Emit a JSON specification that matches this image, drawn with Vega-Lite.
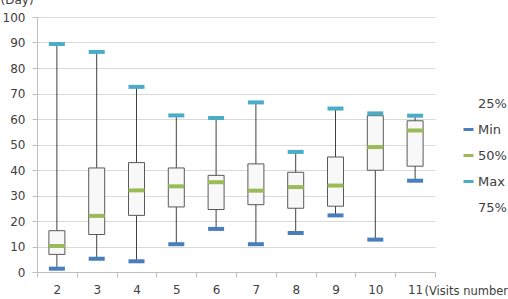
{
  "$schema": "https://vega.github.io/schema/vega-lite/v6.json",
  "width": 398,
  "height": 255,
  "autosize": {"type": "none"},
  "padding": {"left": 37, "top": 17, "right": 73, "bottom": 27},
  "background": "white",
  "config": {
    "view": {"stroke": null},
    "font": "DejaVu Sans",
    "axis": {"labelFont": "DejaVu Sans", "titleFont": "DejaVu Sans", "labelColor": "#404040", "titleColor": "#404040"},
    "axisY": {
      "titleAngle": 0,
      "titleFontSize": 12,
      "titleFontWeight": "normal",
      "titleAlign": "left",
      "titleBaseline": "alphabetic",
      "titleX": -37,
      "titleY": -14,
      "labelOverlap": false,
      "labelFontSize": 12,
      "labelPadding": 7,
      "tickSize": 5,
      "tickColor": "#bfbfbf",
      "domainColor": "#bfbfbf",
      "gridColor": "#d9d9d9"
    }
  },
  "data": {
    "values": [
      {"visit": 2, "Min": 1.3, "Q1": 6.9, "Median": 10.2, "Q3": 16.2, "Max": 89.4},
      {"visit": 3, "Min": 5.2, "Q1": 14.7, "Median": 22.0, "Q3": 40.8, "Max": 86.3},
      {"visit": 4, "Min": 4.2, "Q1": 22.2, "Median": 32.0, "Q3": 42.9, "Max": 72.6},
      {"visit": 5, "Min": 10.9, "Q1": 25.5, "Median": 33.6, "Q3": 40.8, "Max": 61.4},
      {"visit": 6, "Min": 16.9, "Q1": 24.5, "Median": 35.2, "Q3": 37.9, "Max": 60.4},
      {"visit": 7, "Min": 10.9, "Q1": 26.4, "Median": 31.9, "Q3": 42.4, "Max": 66.5},
      {"visit": 8, "Min": 15.3, "Q1": 25.0, "Median": 33.3, "Q3": 39.1, "Max": 47.1},
      {"visit": 9, "Min": 22.2, "Q1": 25.8, "Median": 33.9, "Q3": 45.1, "Max": 64.1},
      {"visit": 10, "Min": 12.7, "Q1": 39.9, "Median": 49.0, "Q3": 61.3, "Max": 62.2},
      {"visit": 11, "Min": 35.8, "Q1": 41.5, "Median": 55.5, "Q3": 59.3, "Max": 61.3}
    ]
  },
  "encoding": {
    "x": {
      "field": "visit",
      "type": "ordinal",
      "scale": {"paddingInner": 0, "paddingOuter": 0},
      "axis": {
        "title": "(Visits number)",
        "titleFontSize": 11.5,
        "titleFontWeight": "normal",
        "titleAlign": "left",
        "titleBaseline": "alphabetic",
        "titleX": 387,
        "titleY": 22,
        "labelAngle": 0,
        "labelFontSize": 12,
        "labelPadding": 7,
        "tickBand": "extent",
        "tickSize": 5,
        "tickColor": "#bfbfbf",
        "domainColor": "#bfbfbf",
        "grid": false
      }
    }
  },
  "layer": [
    {
      "mark": {"type": "rule", "color": "#404040", "strokeWidth": 1},
      "encoding": {
        "y": {
          "field": "Min",
          "type": "quantitative",
          "scale": {"domain": [0, 100], "nice": false},
          "axis": {"title": "(Day)", "values": [0, 10, 20, 30, 40, 50, 60, 70, 80, 90, 100]}
        },
        "y2": {"field": "Max"}
      }
    },
    {
      "mark": {"type": "bar", "size": 16, "fill": "#f8f8f8", "stroke": "#595959", "strokeWidth": 1},
      "encoding": {
        "y": {
          "field": "Q1",
          "type": "quantitative",
          "scale": {"domain": [0, 100], "nice": false},
          "axis": {"title": "(Day)", "values": [0, 10, 20, 30, 40, 50, 60, 70, 80, 90, 100]}
        },
        "y2": {"field": "Q3"}
      }
    },
    {
      "transform": [{"fold": ["Min", "Median", "Max"], "as": ["stat", "value"]}],
      "mark": {"type": "tick", "size": 16, "thickness": 4, "opacity": 1},
      "encoding": {
        "y": {
          "field": "value",
          "type": "quantitative",
          "scale": {"domain": [0, 100], "nice": false},
          "axis": {"title": "(Day)", "values": [0, 10, 20, 30, 40, 50, 60, 70, 80, 90, 100]}
        },
        "color": {
          "field": "stat",
          "type": "nominal",
          "scale": {
            "domain": ["Q1", "Min", "Median", "Max", "Q3"],
            "range": ["rgba(0,0,0,0)", "#4a7ebb", "#9bbb59", "#4bacc6", "rgba(0,0,0,0)"]
          },
          "legend": {
            "title": null,
            "orient": "none",
            "legendX": 425,
            "legendY": 80,
            "padding": 0,
            "symbolType": "M-1,-0.3L1,-0.3L1,0.3L-1,0.3Z",
            "symbolSize": 100,
            "symbolStrokeWidth": 0,
            "labelFontSize": 13,
            "labelFont": "DejaVu Sans",
            "labelColor": "#404040",
            "labelOffset": 3,
            "rowPadding": 12,
            "labelExpr": "datum.label == 'Q1' ? '25%' : datum.label == 'Median' ? '50%' : datum.label == 'Q3' ? '75%' : datum.label"
          }
        }
      }
    }
  ]
}
